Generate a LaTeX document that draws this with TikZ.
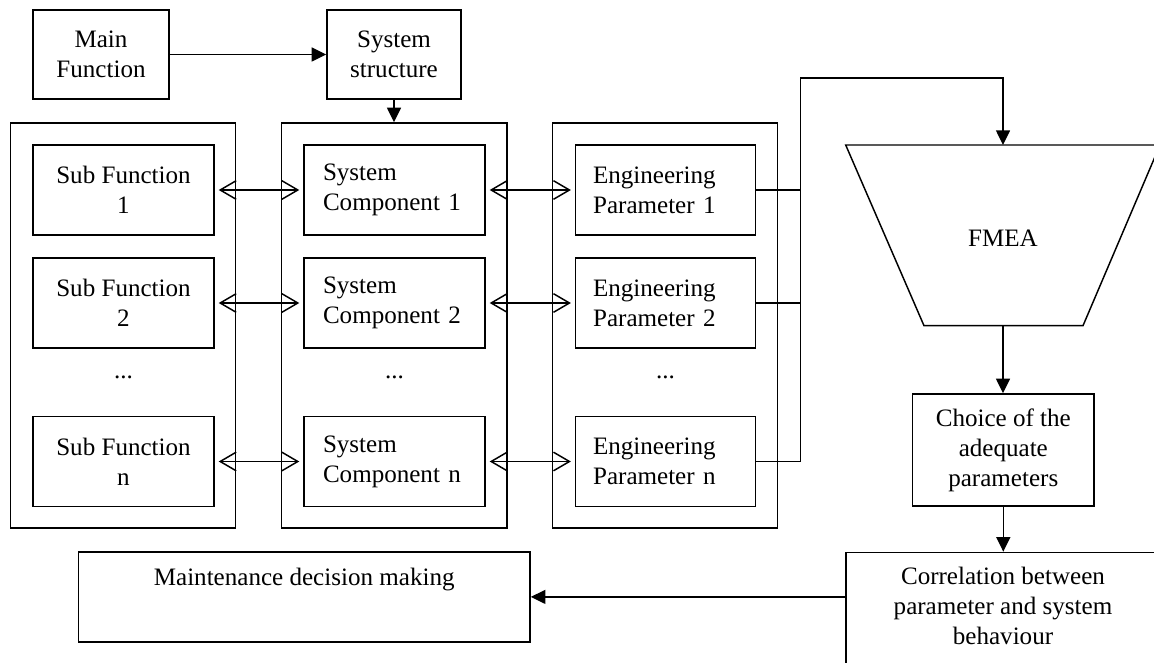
\documentclass[tikz,border=0pt]{standalone}
\usepackage{fontspec}
\setmainfont{Liberation Serif}
\usetikzlibrary{arrows.meta}
\begin{document}
\begin{tikzpicture}[x=0.75pt,y=-0.75pt, line width=1.1pt,
  every node/.style={font=\fontsize{18.8}{22.5}\selectfont},
  box/.style={draw, inner sep=0pt, align=center},
  frame/.style={draw, inner sep=0pt, minimum width=169pt, minimum height=303.75pt},
  sub/.style={box, minimum width=135.75pt, minimum height=67.5pt},
  comp/.style={draw, align=left, text width=107.25pt, inner xsep=14.25pt, inner ysep=0pt, minimum height=67.5pt},
  eng/.style={draw, align=left, text width=108.75pt, inner xsep=13.1pt, inner ysep=0pt, minimum height=67.5pt},
  dbl/.style={{Straight Barb[length=12pt,width=14pt]}-{Straight Barb[length=12pt,width=14pt]}, shorten <=3pt, shorten >=3pt},
  arr/.style={-{Triangle[length=11pt,width=10.5pt]}}
]
\useasboundingbox (0,0) rectangle (1154,663);
\clip (0,0) rectangle (1154,663);

% top row
\node[box, minimum width=102pt, minimum height=66.75pt] (main) at (101,54.5) {Main\\Function};
\node[box, minimum width=100.5pt, minimum height=66.75pt] (sys) at (394,54.5) {System\\structure};

% frames
\node[frame] (f1) at (123,325.5) {};
\node[frame] (f2) at (394.2,325.5) {};
\node[frame] (f3) at (665,325.5) {};

% sub functions
\node[sub] (s1) at (123.5,190) {Sub Function\\1};
\node[sub] (s2) at (123.5,303) {Sub Function\\2};
\node[sub] (sn) at (123.5,461.5) {Sub Function\\n};

% components
\node[comp] (c1) at (394.5,190) {System\\Component 1};
\node[comp] (c2) at (394.5,303) {System\\Component 2};
\node[comp] (cn) at (394.5,461.5) {System\\Component n};

% engineering parameters
\node[eng] (e1) at (665.6,190) {Engineering\\Parameter 1};
\node[eng] (e2) at (665.6,303) {Engineering\\Parameter 2};
\node[eng] (en) at (665.6,461.5) {Engineering\\Parameter n};

% dots
\node (d1) at (123.5,377) {...};
\node (d2) at (394.5,377) {...};
\node (d3) at (665.6,377) {...};

% arrows top
\draw[arr] (main) -- (sys);
\draw[arr] (sys.south) -- (sys.south |- f2.north);

% double arrows
\draw[dbl] (s1) -- (c1);
\draw[dbl] (s2) -- (c2);
\draw[dbl] (sn) -- (cn);
\draw[dbl] (c1) -- (e1);
\draw[dbl] (c2) -- (e2);
\draw[dbl] (cn) -- (en);

% FMEA
\draw (845.7,145) -- (1160,145) -- (1083,325.7) -- (924,325.7) -- cycle;
\node (fmea) at (1003,238) {FMEA};
\coordinate (ftop) at (1003,145);
\coordinate (fbot) at (1003,325.7);
\coordinate (bus) at (800.7,78);
\draw (e1.east) -- (e1.east -| bus);
\draw (e2.east) -- (e2.east -| bus);
\draw[arr] (en.east) -- (en.east -| bus) -- (bus) -- (bus -| ftop) -- (ftop);

% choice
\node[box, minimum width=136pt, minimum height=84pt] (choice) at (1003.3,450) {Choice of the\\adequate\\parameters};
\draw[arr] (fbot) -- (fbot |- choice.north);

% correlation
\node[draw, minimum width=235.7pt, minimum height=97.5pt, anchor=north] (corr) at (1003,551.7) {};
\node[anchor=north, align=center, inner sep=0pt] (corrtxt) at (1003,566) {Correlation between\\parameter and system\\behaviour};
\draw[arr] (choice.south) -- (choice.south |- corr.north);

% maintenance
\node[draw, minimum width=338.8pt, minimum height=67.3pt] (maint) at (304.2,596.9) {};
\node[anchor=north, inner sep=0pt] (mtxt) at (304.2,567) {Maintenance decision making};
\draw[arr] (maint.east -| corr.west) -- (maint.east);
\end{tikzpicture}
\end{document}
